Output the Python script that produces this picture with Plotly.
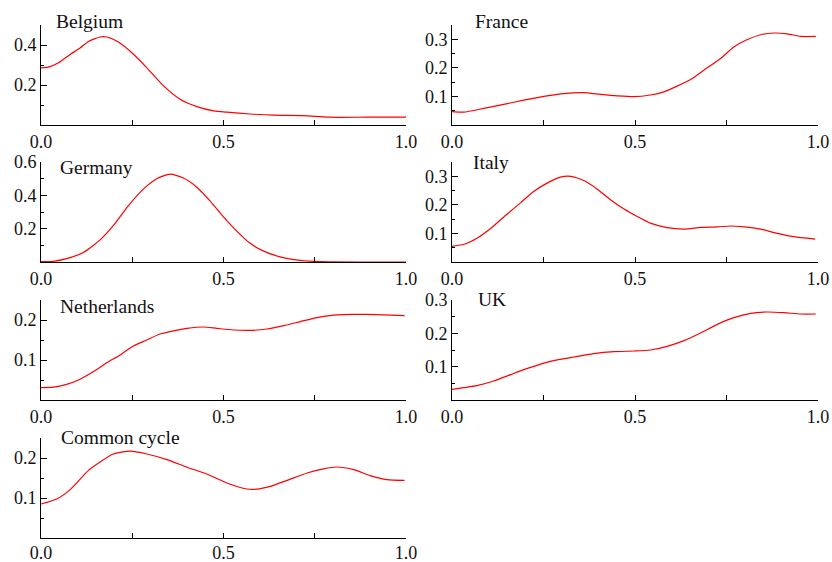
import plotly.graph_objects as go

# ---------------- data ----------------
belgium_x = [0.0, 0.02, 0.048, 0.08, 0.107, 0.13, 0.162, 0.18, 0.212, 0.249, 0.29, 0.335, 0.381,
             0.427, 0.473, 0.509, 0.573, 0.637, 0.72, 0.788, 0.893, 1.0]
belgium_y = [0.286, 0.289, 0.311, 0.353, 0.385, 0.418, 0.44, 0.44, 0.415, 0.361, 0.286, 0.197, 0.129,
             0.092, 0.071, 0.064, 0.055, 0.049, 0.047, 0.039, 0.039, 0.039]

france_x = [0.0, 0.032, 0.087, 0.141, 0.196, 0.251, 0.305, 0.36, 0.406, 0.451, 0.497, 0.542, 0.579,
            0.615, 0.652, 0.688, 0.734, 0.77, 0.807, 0.843, 0.88, 0.916, 0.953, 0.994]
france_y = [0.047, 0.045, 0.058, 0.072, 0.087, 0.1, 0.11, 0.113, 0.107, 0.102, 0.099, 0.105, 0.116,
            0.136, 0.159, 0.192, 0.233, 0.273, 0.299, 0.316, 0.322, 0.319, 0.31, 0.31]

germany_x = [0.0, 0.034, 0.07, 0.116, 0.162, 0.198, 0.239, 0.281, 0.317, 0.354, 0.39, 0.427, 0.463,
             0.5, 0.537, 0.573, 0.61, 0.655, 0.71, 0.765, 0.893, 1.0]
germany_y = [0.002, 0.004, 0.02, 0.057, 0.133, 0.218, 0.337, 0.439, 0.5, 0.527, 0.504, 0.449, 0.367,
             0.271, 0.184, 0.112, 0.065, 0.031, 0.01, 0.002, 0.0, 0.0]

italy_x = [0.0, 0.036, 0.068, 0.109, 0.15, 0.187, 0.223, 0.26, 0.296, 0.324, 0.36, 0.397, 0.433,
           0.469, 0.506, 0.542, 0.588, 0.634, 0.679, 0.725, 0.761, 0.798, 0.843, 0.889, 0.934, 0.992]
italy_y = [0.055, 0.063, 0.083, 0.121, 0.167, 0.207, 0.247, 0.276, 0.297, 0.3, 0.285, 0.255, 0.218,
           0.186, 0.159, 0.136, 0.12, 0.115, 0.121, 0.123, 0.126, 0.123, 0.115, 0.1, 0.0885, 0.08]

netherlands_x = [0.0, 0.034, 0.07, 0.107, 0.144, 0.18, 0.217, 0.253, 0.29, 0.326, 0.363, 0.4, 0.445,
                 0.482, 0.527, 0.573, 0.619, 0.665, 0.71, 0.756, 0.802, 0.847, 0.893, 0.939, 0.996]
netherlands_y = [0.031, 0.032, 0.039, 0.052, 0.071, 0.093, 0.1125, 0.135, 0.15, 0.165, 0.173, 0.179,
                 0.1825, 0.179, 0.175, 0.174, 0.1775, 0.186, 0.196, 0.206, 0.212, 0.214, 0.214, 0.213, 0.211]

uk_x = [0.0, 0.032, 0.068, 0.114, 0.16, 0.196, 0.232, 0.278, 0.333, 0.387, 0.442, 0.497, 0.542,
        0.588, 0.634, 0.679, 0.725, 0.77, 0.816, 0.861, 0.907, 0.953, 0.994]
uk_y = [0.032, 0.037, 0.043, 0.057, 0.076, 0.091, 0.104, 0.118, 0.129, 0.139, 0.145, 0.147, 0.15,
        0.161, 0.178, 0.201, 0.227, 0.247, 0.26, 0.264, 0.262, 0.258, 0.258]

common_x = [0.0, 0.043, 0.08, 0.13, 0.162, 0.198, 0.244, 0.29, 0.345, 0.4, 0.454, 0.509, 0.564,
            0.591, 0.628, 0.674, 0.729, 0.774, 0.811, 0.857, 0.902, 0.948, 0.996]
common_y = [0.085, 0.0975, 0.121, 0.169, 0.19, 0.21, 0.217, 0.21, 0.196, 0.177, 0.16, 0.1375, 0.1225,
            0.122, 0.129, 0.144, 0.1625, 0.173, 0.1775, 0.171, 0.156, 0.146, 0.144]

titles = ["Belgium", "France", "Germany", "Italy", "Netherlands", "UK", "Common cycle"]
x_tickvals = [0.0, 0.5, 1.0]
x_ticktext = ["0.0", "0.5", "1.0"]
x_minor = [0.25, 0.75]

# per-panel y-axis settings
y_ranges = [[0, 0.5], [0, 0.35], [0, 0.6], [0, 0.35], [0, 0.25], [0, 0.3], [0, 0.25]]
y_tickvals = [[0.2, 0.4], [0.1, 0.2, 0.3], [0.2, 0.4, 0.6], [0.1, 0.2, 0.3],
              [0.1, 0.2], [0.1, 0.2, 0.3], [0.1, 0.2]]
y_minor = [[0.1, 0.3, 0.5], [0.05, 0.15, 0.25, 0.35], [0.1, 0.3, 0.5], [0.05, 0.15, 0.25, 0.35],
           [0.05, 0.15, 0.25], [0.05, 0.15, 0.25], [0.05, 0.15, 0.25]]

series_x = [belgium_x, france_x, germany_x, italy_x, netherlands_x, uk_x, common_x]
series_y = [belgium_y, france_y, germany_y, italy_y, netherlands_y, uk_y, common_y]

# ---------------- layout geometry (pixels) ----------------
W, H = 832, 562
col_px = [(41, 406), (452, 818)]
row_px = [(25, 125), (162, 262), (300, 400), (438, 538)]
title_px = [(54, 21), (473, 21), (58, 167), (471, 162), (58, 306), (476, 300), (59, 437)]

FONT = "Liberation Serif, Times New Roman, serif"

fig = go.Figure()
layout = dict(
    template="none",
    width=W, height=H,
    margin=dict(l=0, r=0, t=0, b=0, autoexpand=False),
    paper_bgcolor="white", plot_bgcolor="white",
    showlegend=False,
    font=dict(family=FONT, size=18, color="#111111"),
    annotations=[],
)

for i in range(7):
    row, col = divmod(i, 2)
    n = i + 1
    xa = "x" if n == 1 else f"x{n}"
    ya = "y" if n == 1 else f"y{n}"
    xk = "xaxis" if n == 1 else f"xaxis{n}"
    yk = "yaxis" if n == 1 else f"yaxis{n}"
    x0, x1 = col_px[col]
    t0, b0 = row_px[row]
    fig.add_trace(go.Scatter(x=series_x[i], y=series_y[i], mode="lines",
                             line=dict(color="#ff0000", width=1.2, shape="spline", smoothing=0.6),
                             xaxis=xa, yaxis=ya, hoverinfo="skip"))
    layout[xk] = dict(
        domain=[x0 / W, x1 / W], anchor=ya, range=[0, 1], automargin=False,
        showgrid=False, zeroline=False, showline=True, linecolor="black", linewidth=1,
        ticks="inside", ticklen=5, tickcolor="black", tickwidth=1,
        tickvals=x_tickvals, ticktext=x_ticktext,
        ticklabelstandoff=-2 if row == 3 else 0,
        minor=dict(tickvals=x_minor, ticks="inside", ticklen=5, tickcolor="black", tickwidth=1),
        tickfont=dict(family=FONT, size=18, color="#111111"),
        fixedrange=True,
    )
    layout[yk] = dict(
        domain=[1 - b0 / H, 1 - t0 / H], anchor=xa, range=y_ranges[i], automargin=False,
        showgrid=False, zeroline=False, showline=True, linecolor="black", linewidth=1,
        ticks="inside", ticklen=6, tickcolor="black", tickwidth=1,
        tickvals=y_tickvals[i], ticktext=[f"{v:.1f}" for v in y_tickvals[i]],
        minor=dict(tickvals=y_minor[i], ticks="inside", ticklen=3, tickcolor="black", tickwidth=1),
        tickfont=dict(family=FONT, size=18, color="#111111"),
        fixedrange=True,
    )
    tx, ty = title_px[i]
    layout["annotations"].append(dict(
        text=titles[i], xref="paper", yref="paper", x=tx / W, y=1 - ty / H,
        xanchor="left", yanchor="middle", showarrow=False,
        font=dict(family=FONT, size=19.5, color="#111111"),
    ))

fig.update_layout(**layout)
fig.write_html("out.html", config={"displayModeBar": False},
               post_script="document.body.style.margin='0';document.body.style.overflow='hidden';")
